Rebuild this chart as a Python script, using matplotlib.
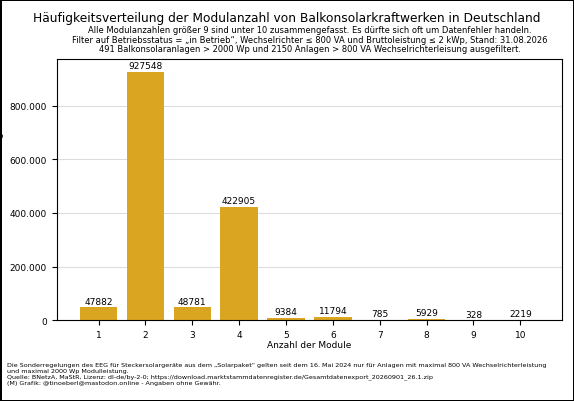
import matplotlib.pyplot as plt
from matplotlib.ticker import FuncFormatter

modules = [1, 2, 3, 4, 5, 6, 7, 8, 9, 10]
counts = [47882, 927548, 48781, 422905, 9384, 11794, 785, 5929, 328, 2219]

fig = plt.figure(figsize=(5.74, 4.02), dpi=100, linewidth=2, edgecolor='black')
ax = fig.add_axes([0.099, 0.201, 0.880, 0.650])

bars = ax.bar(modules, counts, color='goldenrod', zorder=2)
for b, c in zip(bars, counts):
    ax.text(b.get_x() + b.get_width() / 2, c + 6000, str(c), ha='center', va='bottom', fontsize=6.5)

ax.set_xticks(modules)
ax.set_ylim(0, 975000)
ax.set_yticks([0, 200000, 400000, 600000, 800000])
ax.yaxis.set_major_formatter(FuncFormatter(lambda v, p: f"{int(v):,}".replace(',', '.')))
ax.tick_params(labelsize=6.5)
ax.grid(axis='y', color='#dddddd', linewidth=0.8, zorder=0)
ax.set_xlabel("Anzahl der Module", fontsize=6.5, labelpad=1)
ax.set_ylabel("Anzahl der Balkonsolaranlagen", fontsize=6.5, labelpad=4)

fig.text(0.5, 0.945, "Häufigkeitsverteilung der Modulanzahl von Balkonsolarkraftwerken in Deutschland",
         ha='center', fontsize=8.8)
fig.text(0.54, 0.865,
         "Alle Modulanzahlen größer 9 sind unter 10 zusammengefasst. Es dürfte sich oft um Datenfehler handeln.\n"
         "Filter auf Betriebsstatus = „in Betrieb“, Wechselrichter ≤ 800 VA und Bruttoleistung ≤ 2 kWp, Stand: 31.08.2026\n"
         "491 Balkonsolaranlagen > 2000 Wp und 2150 Anlagen > 800 VA Wechselrichterleisung ausgefiltert.",
         ha='center', va='bottom', fontsize=6, linespacing=1.1)
fig.text(0.012, 0.04,
         "Die Sonderregelungen des EEG für Steckersolargeräte aus dem „Solarpaket“ gelten seit dem 16. Mai 2024 nur für Anlagen mit maximal 800 VA Wechselrichterleistung\n"
         "und maximal 2000 Wp Modulleistung.\n"
         "Quelle: BNetzA, MaStR, Lizenz: dl-de/by-2-0; https://download.marktstammdatenregister.de/Gesamtdatenexport_20260901_26.1.zip\n"
         "(M) Grafik: @tinoeberl@mastodon.online - Angaben ohne Gewähr.",
         ha='left', va='bottom', fontsize=4.6, linespacing=1.15)

fig.savefig("out.png", dpi=100, edgecolor=fig.get_edgecolor())
